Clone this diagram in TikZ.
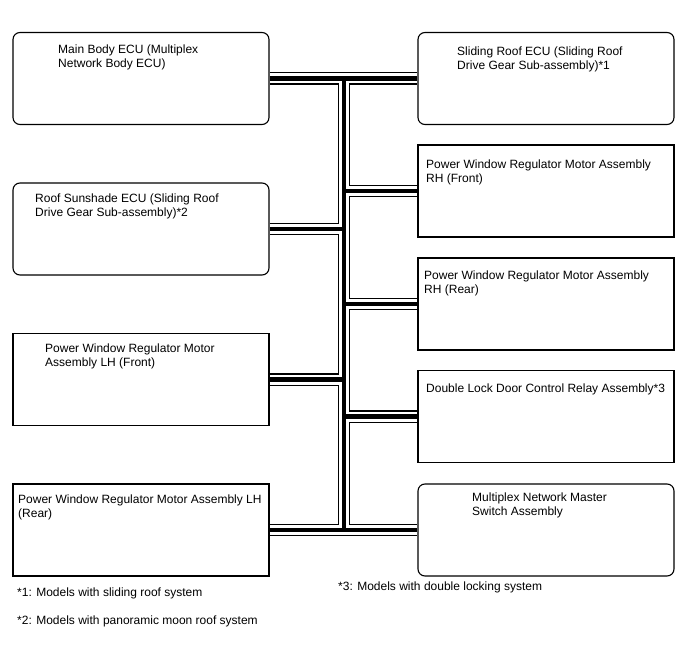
\documentclass[tikz,border=0pt]{standalone}
\usepackage{fontspec}
\setmainfont{Liberation Sans}
\usetikzlibrary{backgrounds}
\begin{document}
\begin{tikzpicture}[x=1pt,y=-1pt,
  box/.style={draw=black,fill=white,line width=1.1pt,minimum width=256pt,minimum height=92pt,inner sep=0pt},
  rbox/.style={box,rounded corners=7pt},
  lbl/.style={anchor=north west,inner sep=0pt,align=left,font=\fontsize{12}{14}\selectfont},
  note/.style={anchor=base west,inner sep=0pt,font=\fontsize{12}{14}\selectfont}]
\useasboundingbox (0,0) rectangle (688,658);
% boxes
\node[rbox] (main) at (141,78.5) {};
\node[rbox] (sun)  at (141,229) {};
\node[box]  (lhf)  at (141,379.5) {};
\node[box]  (lhr)  at (141,530) {};
\node[rbox] (sr)   at (546,78.5) {};
\node[box]  (rhf)  at (546,191) {};
\node[box]  (rhr)  at (546,304) {};
\node[box]  (dl)   at (546,416.5) {};
\node[rbox] (ms)   at (546,530) {};
% labels
\node[lbl] (tmain) at (58,45) {Main Body ECU (Multiplex\\Network Body ECU)};
\node[lbl] (tsun)  at (35,194) {Roof Sunshade ECU (Sliding Roof\\Drive Gear Sub-assembly)*2};
\node[lbl] (tlhf)  at (45,343.5) {Power Window Regulator Motor\\Assembly LH (Front)};
\node[lbl] (tlhr)  at (18,495) {Power Window Regulator Motor Assembly LH\\(Rear)};
\node[lbl] (tsr)   at (457,46.7) {Sliding Roof ECU (Sliding Roof\\Drive Gear Sub-assembly)*1};
\node[lbl] (trhf)  at (426,159.3) {Power Window Regulator Motor Assembly\\RH (Front)};
\node[lbl] (trhr)  at (424,271) {Power Window Regulator Motor Assembly\\RH (Rear)};
\node[lbl] (tdl)   at (426,383.3) {Double Lock Door Control Relay Assembly*3};
\node[lbl] (tms)   at (472,492.7) {Multiplex Network Master\\Switch Assembly};
% footnotes
\node[note] (n1) at (17,596) {*1: Models with sliding roof system};
\node[note] (n2) at (17,624) {*2: Models with panoramic moon roof system};
\node[note] (n3) at (338,590.5) {*3: Models with double locking system};
% bus
\coordinate (vtop) at (344,78.5);
\coordinate (vbot) at (344,530);
\begin{scope}[on background layer]
\foreach \w/\c in {12.5/black,10/white,4.5/black}{
  \draw[line width=\w pt,draw=\c] (main.east) -- (sr.west);
  \draw[line width=\w pt,draw=\c] (lhr.east) -- (ms.west);
  \draw[line width=\w pt,draw=\c] (vtop) -- (vbot);
  \draw[line width=\w pt,draw=\c] (sun.east) -- (sun.east -| vtop);
  \draw[line width=\w pt,draw=\c] (lhf.east) -- (lhf.east -| vtop);
  \draw[line width=\w pt,draw=\c] (rhf.west -| vtop) -- (rhf.west);
  \draw[line width=\w pt,draw=\c] (rhr.west -| vtop) -- (rhr.west);
  \draw[line width=\w pt,draw=\c] (dl.west -| vtop) -- (dl.west);
}
\end{scope}
\end{tikzpicture}
\end{document}
